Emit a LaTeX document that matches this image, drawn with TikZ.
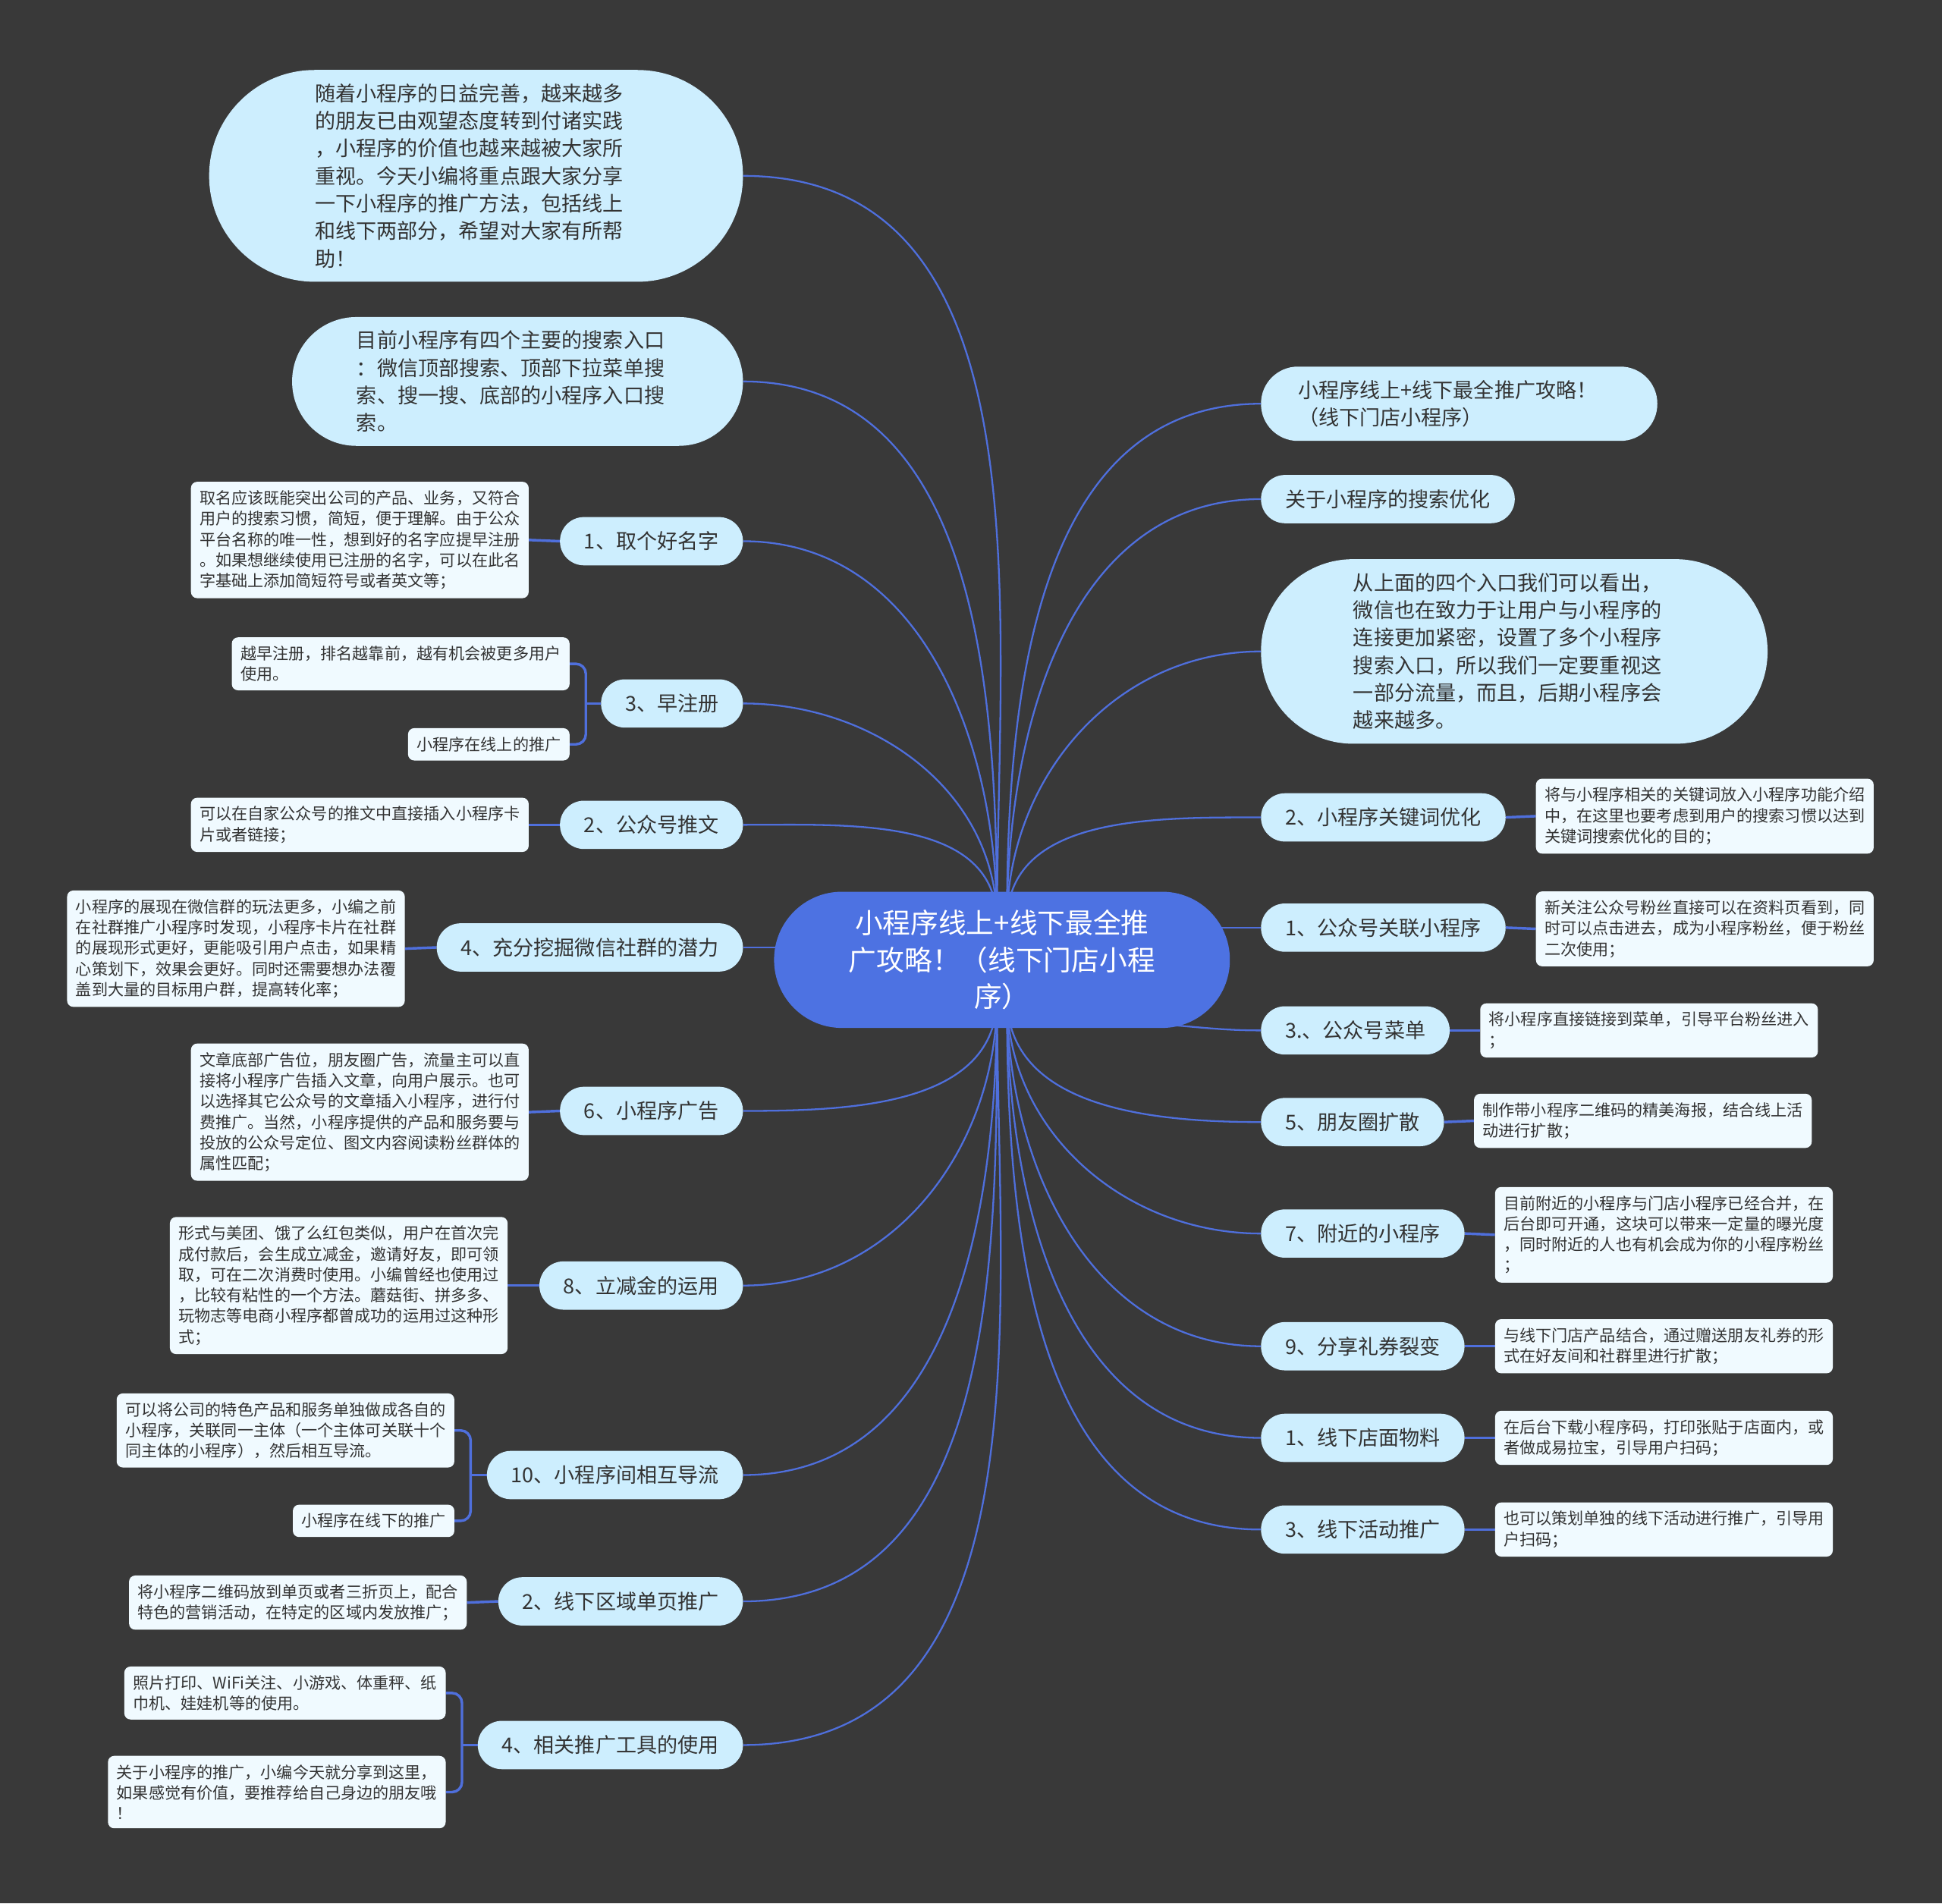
\documentclass[tikz,border=0pt]{standalone}
\usepackage{fontspec}
\setmainfont{Noto Sans CJK SC}
\usepackage{tikz}
\usetikzlibrary{backgrounds}
\definecolor{bgc}{HTML}{393939}
\definecolor{linec}{HTML}{4F6FDC}
\definecolor{rootc}{HTML}{4D72E2}
\definecolor{topicc}{HTML}{CDEEFE}
\definecolor{leafc}{HTML}{F0FAFF}
\definecolor{textc}{HTML}{333333}
\tikzset{
  link/.style={draw=linec, line width=2pt},
  stem/.style={draw=linec, line width=3pt},
  root/.style={rectangle, rounded corners=27.4mm, fill=rootc, text=white, text width=129mm,
    align=center, minimum height=55mm, inner xsep=27.5mm, font=\fontsize{32pt}{42pt}\selectfont},
  topic/.style={rectangle, rounded corners=9.7mm, fill=topicc, text=textc, minimum height=19.5mm,
    inner xsep=9.75mm, font=\fontsize{23.6pt}{31.6pt}\selectfont},
  bigtopic/.style={topic, text width=130mm, align=left, minimum height=2*#1,
    inner xsep=#1, rounded corners=#1-0.1mm},
  leaf/.style={rectangle, rounded corners=2.5mm, fill=leafc, text=textc, align=left,
    inner sep=3.5mm, font=\fontsize{18.4pt}{23.8pt}\selectfont}
}
\begin{document}
\begin{tikzpicture}[x=0.5mm,y=-0.5mm]
  \useasboundingbox (0,0) rectangle (1568,1537);
  % centre
  \node[root] (root) at (809,775) {小程序线上+线下最全推\\广攻略！（线下门店小程\\序）};
  \coordinate (ct1) at (805,745);
  \coordinate (ct2) at (813,745);
  \coordinate (cb1) at (805,805);
  \coordinate (cb2) at (813,805);
  \coordinate (cr) at (905,826);
  % left side
  \node[bigtopic=42.75mm, anchor=east] (b1) at (600,142) {随着小程序的日益完善，越来越多\\的朋友已由观望态度转到付诸实践\\，小程序的价值也越来越被大家所\\重视。今天小编将重点跟大家分享\\一下小程序的推广方法，包括线上\\和线下两部分，希望对大家有所帮\\助！};
  \node[bigtopic=26mm, anchor=east] (b2) at (600,308) {目前小程序有四个主要的搜索入口\\：微信顶部搜索、顶部下拉菜单搜\\索、搜一搜、底部的小程序入口搜\\索。};
  \node[topic, anchor=east] (t1) at (600,437) {1、取个好名字};
  \node[leaf, anchor=east] (l1) at (427,436) {取名应该既能突出公司的产品、业务，又符合\\用户的搜索习惯，简短，便于理解。由于公众\\平台名称的唯一性，想到好的名字应提早注册\\。如果想继续使用已注册的名字，可以在此名\\字基础上添加简短符号或者英文等；};
  \node[topic, anchor=east] (t3) at (600,568) {3、早注册};
  \node[leaf, anchor=east] (l3a) at (460,536) {越早注册，排名越靠前，越有机会被更多用户\\使用。};
  \node[leaf, anchor=east] (l3b) at (460,601) {小程序在线上的推广};
  \node[topic, anchor=east] (t2) at (600,666) {2、公众号推文};
  \node[leaf, anchor=east] (l2) at (427,666) {可以在自家公众号的推文中直接插入小程序卡\\片或者链接；};
  \node[topic, anchor=east] (t4) at (600,765) {4、充分挖掘微信社群的潜力};
  \node[leaf, anchor=east] (l4) at (327,766) {小程序的展现在微信群的玩法更多，小编之前\\在社群推广小程序时发现，小程序卡片在社群\\的展现形式更好，更能吸引用户点击，如果精\\心策划下，效果会更好。同时还需要想办法覆\\盖到大量的目标用户群，提高转化率；};
  \node[topic, anchor=east] (t6) at (600,897) {6、小程序广告};
  \node[leaf, anchor=east] (l6) at (427,898) {文章底部广告位，朋友圈广告，流量主可以直\\接将小程序广告插入文章，向用户展示。也可\\以选择其它公众号的文章插入小程序，进行付\\费推广。当然，小程序提供的产品和服务要与\\投放的公众号定位、图文内容阅读粉丝群体的\\属性匹配；};
  \node[topic, anchor=east] (t8) at (600,1038) {8、立减金的运用};
  \node[leaf, anchor=east] (l8) at (410,1038) {形式与美团、饿了么红包类似，用户在首次完\\成付款后，会生成立减金，邀请好友，即可领\\取，可在二次消费时使用。小编曾经也使用过\\，比较有粘性的一个方法。蘑菇街、拼多多、\\玩物志等电商小程序都曾成功的运用过这种形\\式；};
  \node[topic, anchor=east] (t10) at (600,1191) {10、小程序间相互导流};
  \node[leaf, anchor=east] (l10a) at (367,1155) {可以将公司的特色产品和服务单独做成各自的\\小程序，关联同一主体（一个主体可关联十个\\同主体的小程序），然后相互导流。};
  \node[leaf, anchor=east] (l10b) at (367,1228) {小程序在线下的推广};
  \node[topic, anchor=east] (t2b) at (600,1293) {2、线下区域单页推广};
  \node[leaf, anchor=east] (l2b) at (377,1294) {将小程序二维码放到单页或者三折页上，配合\\特色的营销活动，在特定的区域内发放推广；};
  \node[topic, anchor=east] (t4b) at (600,1409) {4、相关推广工具的使用};
  \node[leaf, anchor=east] (l4a) at (360,1367) {照片打印、WiFi关注、小游戏、体重秤、纸\\巾机、娃娃机等的使用。};
  \node[leaf, anchor=east] (l4c) at (360,1447) {关于小程序的推广，小编今天就分享到这里，\\如果感觉有价值，要推荐给自己身边的朋友哦\\！};
  % right side
  \node[bigtopic=15mm, anchor=west] (r1) at (1018,326) {小程序线上+线下最全推广攻略！\\（线下门店小程序）};
  \node[topic, anchor=west] (r2) at (1018,403) {关于小程序的搜索优化};
  \node[bigtopic=37.25mm, anchor=west] (r3) at (1018,526) {从上面的四个入口我们可以看出，\\微信也在致力于让用户与小程序的\\连接更加紧密，设置了多个小程序\\搜索入口，所以我们一定要重视这\\一部分流量，而且，后期小程序会\\越来越多。};
  \node[topic, anchor=west] (r4) at (1018,660) {2、小程序关键词优化};
  \node[leaf, anchor=west] (q4) at (1240,659) {将与小程序相关的关键词放入小程序功能介绍\\中，在这里也要考虑到用户的搜索习惯以达到\\关键词搜索优化的目的；};
  \node[topic, anchor=west] (r5) at (1018,749) {1、公众号关联小程序};
  \node[leaf, anchor=west] (q5) at (1240,750) {新关注公众号粉丝直接可以在资料页看到，同\\时可以点击进去，成为小程序粉丝，便于粉丝\\二次使用；};
  \node[topic, anchor=west] (r6) at (1018,832) {3.、公众号菜单};
  \node[leaf, anchor=west] (q6) at (1195,832) {将小程序直接链接到菜单，引导平台粉丝进入\\；};
  \node[topic, anchor=west] (r7) at (1018,906) {5、朋友圈扩散};
  \node[leaf, anchor=west] (q7) at (1190,905) {制作带小程序二维码的精美海报，结合线上活\\动进行扩散；};
  \node[topic, anchor=west] (r8) at (1018,996) {7、附近的小程序};
  \node[leaf, anchor=west] (q8) at (1207,997) {目前附近的小程序与门店小程序已经合并，在\\后台即可开通，这块可以带来一定量的曝光度\\，同时附近的人也有机会成为你的小程序粉丝\\；};
  \node[topic, anchor=west] (r9) at (1018,1087) {9、分享礼券裂变};
  \node[leaf, anchor=west] (q9) at (1207,1087) {与线下门店产品结合，通过赠送朋友礼券的形\\式在好友间和社群里进行扩散；};
  \node[topic, anchor=west] (r10) at (1018,1161) {1、线下店面物料};
  \node[leaf, anchor=west] (q10) at (1207,1161) {在后台下载小程序码，打印张贴于店面内，或\\者做成易拉宝，引导用户扫码；};
  \node[topic, anchor=west] (r11) at (1018,1235) {3、线下活动推广};
  \node[leaf, anchor=west] (q11) at (1207,1235) {也可以策划单独的线下活动进行推广，引导用\\户扫码；};
  \coordinate (k3) at (473,568);
  \coordinate (k10) at (380,1191);
  \coordinate (k4) at (373,1409);
  \begin{scope}[on background layer]
    \fill[bgc] (0,0) rectangle (1568,1537);
    % branches to the centre
    \draw[link] (ct1) to[out=90,in=0] (b1.east);
    \draw[link] (ct1) to[out=90,in=0] (b2.east);
    \draw[link] (ct1) to[out=90,in=0] (t1.east);
    \draw[link] (ct1) to[out=90,in=0] (t3.east);
    \draw[link] (ct1) to[out=90,in=0] (t2.east);
    \draw[link] (t4.east) -- (t4.east -| root.center);
    \draw[link] (cb1) to[out=-90,in=0] (t6.east);
    \draw[link] (cb1) to[out=-90,in=0] (t8.east);
    \draw[link] (cb1) to[out=-90,in=0] (t10.east);
    \draw[link] (cb1) to[out=-90,in=0] (t2b.east);
    \draw[link] (cb1) to[out=-90,in=0] (t4b.east);
    \draw[link] (ct2) to[out=90,in=180] (r1.west);
    \draw[link] (ct2) to[out=90,in=180] (r2.west);
    \draw[link] (ct2) to[out=90,in=180] (r3.west);
    \draw[link] (ct2) to[out=90,in=180] (r4.west);
    \draw[link] (r5.west) -- (r5.west -| root.center);
    \draw[link] (cr) to[out=0,in=180] (r6.west);
    \draw[link] (cb2) to[out=-90,in=180] (r7.west);
    \draw[link] (cb2) to[out=-90,in=180] (r8.west);
    \draw[link] (cb2) to[out=-90,in=180] (r9.west);
    \draw[link] (cb2) to[out=-90,in=180] (r10.west);
    \draw[link] (cb2) to[out=-90,in=180] (r11.west);
    % leaves
    \draw[stem] (l1.east) -- (t1.west);
    \draw[stem, rounded corners=4mm] (l3a.east) -| (k3) |- (l3b.east);
    \draw[stem] (k3) -- (t3.west);
    \draw[stem] (l2.east) -- (t2.west);
    \draw[stem] (l4.east) -- (t4.west);
    \draw[stem] (l6.east) -- (t6.west);
    \draw[stem] (l8.east) -- (t8.west);
    \draw[stem, rounded corners=4mm] (l10a.east) -| (k10) |- (l10b.east);
    \draw[stem] (k10) -- (t10.west);
    \draw[stem] (l2b.east) -- (t2b.west);
    \draw[stem, rounded corners=4mm] (l4a.east) -| (k4) |- (l4c.east);
    \draw[stem] (k4) -- (t4b.west);
    \draw[stem] (r4.east) -- (q4.west);
    \draw[stem] (r5.east) -- (q5.west);
    \draw[stem] (r6.east) -- (q6.west);
    \draw[stem] (r7.east) -- (q7.west);
    \draw[stem] (r8.east) -- (q8.west);
    \draw[stem] (r9.east) -- (q9.west);
    \draw[stem] (r10.east) -- (q10.west);
    \draw[stem] (r11.east) -- (q11.west);
  \end{scope}
\end{tikzpicture}
\end{document}
